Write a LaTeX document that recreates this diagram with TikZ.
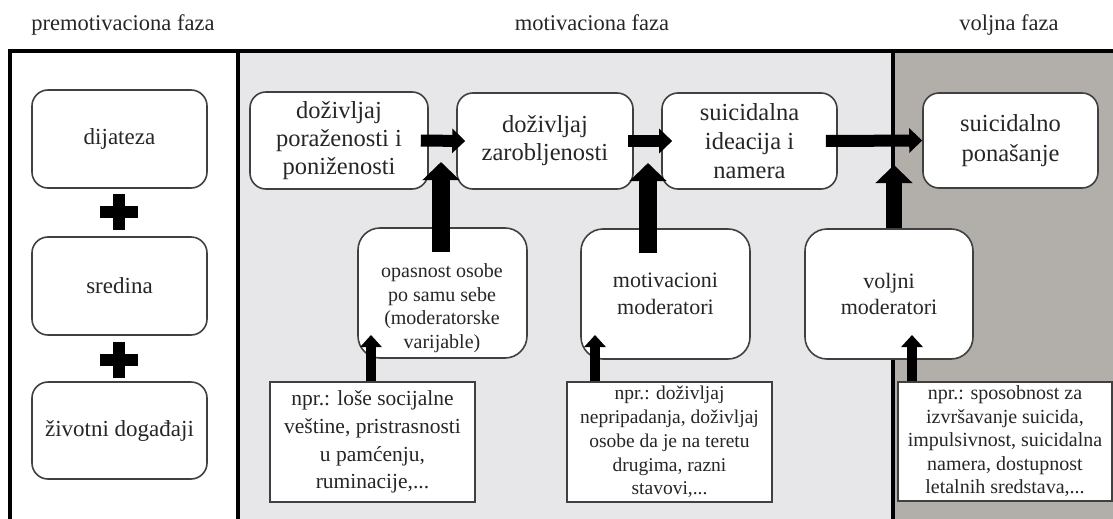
\documentclass[tikz,border=0pt]{standalone}
\usepackage{fontspec}
\setmainfont{Liberation Serif}
\usetikzlibrary{arrows.meta}
\definecolor{lightbg}{HTML}{E7E6E9}
\definecolor{darkbg}{HTML}{B2AEAA}
\definecolor{boxline}{HTML}{404040}
\definecolor{txt}{HTML}{262626}
\begin{document}
\begin{tikzpicture}[x=1pt,y=-1pt,
  rbox/.style={draw=boxline, line width=1.6pt, fill=white, rounded corners=16pt, align=center, inner sep=0pt, text=txt},
  mbox/.style={rbox, rounded corners=22pt},
  sbox/.style={draw=boxline, line width=1.6pt, fill=white, align=center, inner sep=0pt, text=txt},
  head/.style={anchor=base, text=txt, font=\fontsize{22.5}{26}\selectfont},
  plussign/.style={minimum width=38pt, minimum height=36pt, inner sep=0pt,
    path picture={
      \fill ([xshift=-19pt,yshift=-6pt]path picture bounding box.center) rectangle ++(38pt,12pt);
      \fill ([xshift=-6pt,yshift=-18pt]path picture bounding box.center) rectangle ++(12pt,36pt);}},
  varrow/.style={line width=18pt, -{Triangle[length=18pt,width=36pt]}},
  harrow/.style={line width=12pt, -{Triangle[length=13pt,width=24pt]}},
  tarrow/.style={line width=10pt, -{Triangle[length=12pt,width=21pt]}},
  frameline/.style={line width=3.5pt, black}
]
\useasboundingbox (0,0) rectangle (1113,519);
% backgrounds
\fill[lightbg] (238,51) rectangle (893,525);
\fill[darkbg] (893,51) rectangle (1120,525);
\draw[frameline] (10,525) -- (10,51) -- (1120,51);
\draw[frameline] (238,51) -- (238,525);
\draw[line width=4.5pt] (893,51) -- (893,525);
% headers
\node[head] (h1) at (123,30.5) {premotivaciona faza};
\node[head] (h2) at (592,30.5) {motivaciona faza};
\node[head] (h3) at (1009,30.5) {voljna faza};
% left column
\node[rbox, minimum width=175pt, minimum height=98pt, font=\fontsize{23}{27}\selectfont] (l1) at (119.5,139) {dijateza};
\node[rbox, minimum width=175pt, minimum height=98pt, font=\fontsize{23}{27}\selectfont] (l2) at (119.5,286) {sredina};
\node[rbox, minimum width=175pt, minimum height=97pt, font=\fontsize{23}{27}\selectfont] (l3) at (119.5,430.5) {životni događaji};
\node[plussign] (p1) at (119,212) {};
\node[plussign] (p2) at (119,359.5) {};
% main chain
\node[rbox, minimum width=178pt, minimum height=97pt, font=\fontsize{24.5}{28}\selectfont] (b1) at (339,140.5) {doživljaj\\poraženosti i\\poniženosti};
\node[rbox, minimum width=176pt, minimum height=96pt, font=\fontsize{24.5}{28}\selectfont] (b2) at (545,141) {doživljaj\\zarobljenosti};
\node[rbox, minimum width=175pt, minimum height=96pt, font=\fontsize{24.5}{29}\selectfont] (b3) at (749.5,141) {suicidalna\\ideacija i\\namera};
\node[rbox, minimum width=175pt, minimum height=95pt, font=\fontsize{24.5}{30}\selectfont] (b4) at (1010.5,140.5) {suicidalno\\ponašanje};
% moderators
\node[mbox, minimum width=169pt, minimum height=130pt] (opas) at (442.5,293) {};
\node[align=center, text=txt, font=\fontsize{20}{23.5}\selectfont] (opastxt) at (442,308) {opasnost osobe\\po samu sebe\\(moderatorske\\varijable)};
\node[mbox, minimum width=169pt, minimum height=130pt, font=\fontsize{22}{26.5}\selectfont] (motiv) at (665.5,294) {motivacioni\\moderatori};
\node[mbox, minimum width=168pt, minimum height=130pt, font=\fontsize{22}{26.5}\selectfont] (vol) at (889,294) {voljni\\moderatori};
% examples
\node[sbox, minimum width=205pt, minimum height=120pt, font=\fontsize{21.5}{27.7}\selectfont] (n1) at (372.5,442) {npr.: loše socijalne\\veštine, pristrasnosti\\u pamćenju,\\ruminacije,...};
\node[sbox, minimum width=205pt, minimum height=120pt, font=\fontsize{19.5}{23.8}\selectfont] (n2) at (669.5,442) {npr.: doživljaj\\nepripadanja, doživljaj\\osobe da je na teretu\\drugima, razni\\stavovi,...};
\node[sbox, minimum width=214pt, minimum height=119pt, font=\fontsize{20}{23.5}\selectfont] (n3) at (1005,441.5) {npr.: sposobnost za\\izvršavanje suicida,\\impulsivnost, suicidalna\\namera, dostupnost\\letalnih sredstava,...};
% junction points
\coordinate (j1) at (441,162);
\coordinate (j2) at (648,163);
\coordinate (j3) at (894,165);
\coordinate (t1) at (371,335);
\coordinate (t2) at (595,335);
\coordinate (t3) at (912,335);
% horizontal arrows
\draw[harrow] ([xshift=-8pt]b1.east) -- ([xshift=9pt]b2.west);
\draw[harrow] ([xshift=-6pt]b2.east) -- ([xshift=11pt]b3.west);
\draw[harrow] ([xshift=-12pt]b3.east) -- (b4.west);
% vertical arrows
\draw[varrow] ([xshift=-1.5pt,yshift=-25pt]opas.north) -- (j1);
\draw[varrow] ([xshift=-17.5pt,yshift=-25pt]motiv.north) -- (j2);
\draw[varrow, line width=16pt] ([xshift=5pt]vol.north) -- (j3);
% thin arrows
\draw[tarrow] (n1.north -| t1) -- (t1);
\draw[tarrow] (n2.north -| t2) -- (t2);
\draw[tarrow] (n3.north -| t3) -- (t3);
\end{tikzpicture}
\end{document}
